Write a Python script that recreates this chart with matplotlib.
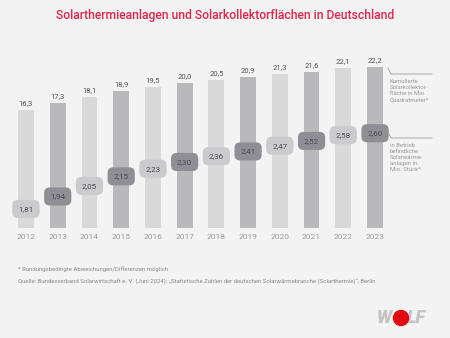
import matplotlib.pyplot as plt
from matplotlib.patches import Ellipse

# Jahre, kumulierte Kollektorfläche (Mio. m²) und Anlagen in Betrieb (Mio. Stück)
years = [2012, 2013, 2014, 2015, 2016, 2017, 2018, 2019, 2020, 2021, 2022, 2023]
flaeche = [16.3, 17.3, 18.1, 18.9, 19.5, 20.0, 20.5, 20.9, 21.3, 21.6, 22.1, 22.2]
anlagen = [1.81, 1.94, 2.05, 2.15, 2.23, 2.30, 2.36, 2.41, 2.47, 2.52, 2.58, 2.60]

title = 'Solarthermieanlagen und Solarkollektorflächen in Deutschland'
note = '* Rundungsbedingte Abweichungen/Differenzen möglich'
source = ('Quelle: Bundesverband Solarwirtschaft e. V. (Juni 2024): „Statistische Zahlen der deutschen '
          'Solarwärmebranche (Solarthermie)“, Berlin')
lbl_flaeche = 'Kumulierte\nSolarkollektor-\nfläche in Mio.\nQuadratmeter*'
lbl_anlagen = 'in Betrieb\nbefindliche\nSolarwärme-\nanlagen in\nMio. Stück*'

plt.rcParams['font.family'] = ['Roboto', 'DejaVu Sans']

bg = '#f3f3f3'
bar_light, bar_dark = '#d9d9da', '#b9b9bc'
box_light, box_dark = '#cbcbce', '#8e8e94'

W, H = 450, 338
fig = plt.figure(figsize=(4.5, 3.38), dpi=100, facecolor=bg)

# Achse in Pixeln: links 10, rechts 395, Basis 228, oben 60
ax = fig.add_axes([10 / W, (H - 228) / H, 385 / W, 168 / H])
ax.set_facecolor('none')
ax.set_xlim(2011.496, 2023.63)
ax.set_ylim(0, 168 / 7.24)
for s in ax.spines.values():
    s.set_visible(False)
ax.set_yticks([])
ax.set_xticks(years)
ax.set_xticklabels([str(y) for y in years], fontsize=6, color='#9a9a9a')
ax.tick_params(axis='x', length=0, pad=4)
ax.axhline(0, color='#d0d0d0', lw=0.8)

colors = [bar_light if i % 2 == 0 else bar_dark for i in range(len(years))]
ax.bar(years, flaeche, width=0.5, color=colors, zorder=1)
for x, v in zip(years, flaeche):
    ax.text(x, v + 0.5, f'{v:.1f}'.replace('.', ','), ha='center', va='bottom',
            fontsize=5.5, color='#555555')

# Zweite Skala für die Anlagenzahl
ax2 = ax.twinx()
ax2.set_ylim(1.611, 3.364)
ax2.axis('off')
for i, (x, v) in enumerate(zip(years, anlagen)):
    fc = box_light if i % 2 == 0 else box_dark
    ax2.text(x, v, f'{v:.2f}'.replace('.', ','), ha='center', va='center',
             fontsize=5.8, color='#4a4a50', zorder=3,
             bbox=dict(boxstyle='round,pad=0.75,rounding_size=0.7', fc=fc, ec='none'))

fig.text(0.5, 1 - 16 / H, title, ha='center', va='center', fontsize=8.7,
         fontweight='medium', color='#e0264a')

# Legenden-Hinweise rechts
def px(x, y):
    return x / W, 1 - y / H

for y0, txt in [(68, lbl_flaeche), (132, lbl_anlagen)]:
    xs = [388 / W, 391 / W, 432 / W]
    ys = [1 - y0 / H, 1 - (y0 + 6) / H, 1 - (y0 + 6) / H]
    fig.add_artist(plt.Line2D(xs, ys, color='#9a9a9a', lw=0.6))
    fig.text(*px(390, y0 + 11), txt, ha='left', va='top', fontsize=4.3,
             color='#9a9a9a', linespacing=1.25)

fig.text(*px(18, 269), note, ha='left', va='center', fontsize=4.3, color='#8a8a8a')
fig.text(*px(18, 282), source, ha='left', va='center', fontsize=4.3, color='#8a8a8a')

# Logo
fig.text(*px(377, 318), 'W', ha='left', va='center', fontsize=13, fontweight='black',
         fontstyle='italic', color='#c4c4c4')
fig.text(*px(407, 318), 'LF', ha='left', va='center', fontsize=13, fontweight='black',
         fontstyle='italic', color='#c4c4c4')
fig.add_artist(Ellipse(px(401, 318), 15 / W, 15 / H, transform=fig.transFigure,
                       color='#e30613', zorder=5))

fig.savefig('out.png', dpi=100, facecolor=bg)
